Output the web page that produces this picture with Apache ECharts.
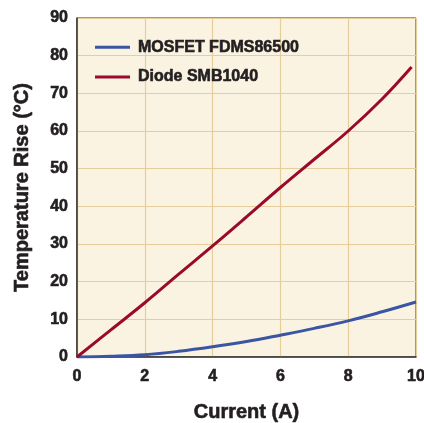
<!DOCTYPE html>
<html><head><meta charset="utf-8">
<script src="https://cdn.jsdelivr.net/npm/echarts@6/dist/echarts.min.js"></script>
<style>html,body{margin:0;padding:0;background:#fff;overflow:hidden}#c{width:424px;height:423px}</style>
</head><body><div id="c"></div>
<script>
const mosfetX = [0, 1, 2, 3, 4, 5, 6, 7, 8, 9, 10];
const mosfet = [0, 0.2, 0.6, 1.5, 2.7, 4.1, 5.8, 7.6, 9.6, 12.0, 14.6];
const diodeX = [0, 1, 2, 3, 4, 5, 6, 7, 8, 9, 9.87];
const diode = [0, 7.2, 14.4, 22.0, 29.5, 37.2, 45.0, 52.5, 60.0, 68.5, 77.0];
const seriesNames = ['MOSFET FDMS86500', 'Diode SMB1040'];
const xTitle = 'Current (A)';
const yTitle = 'Temperature Rise (°C)';
const FONT = '"Liberation Sans", Arial, sans-serif';
const INK = '#231F20';
const heavy = (size) => ({fontFamily: FONT, fontWeight: 'bold', fontSize: size, color: INK, textBorderColor: INK, textBorderWidth: 0.6});
const chart = echarts.init(document.getElementById('c'));
const toPairs = (xs, ys) => xs.map((x, i) => [x, ys[i]]);
chart.setOption({
  animation: false,
  grid: {left: 77, top: 18, width: 339, height: 339, outerBoundsMode: 'none', containLabel: false,
         show: true, backgroundColor: '#FBF3E2', borderColor: '#333', borderWidth: 1},
  legend: {
    left: 90, top: 34, orient: 'vertical', itemGap: 13, itemWidth: 35, itemHeight: 3,
    icon: 'rect',
    textStyle: Object.assign(heavy(16), {padding: [0, 0, 0, 3]}),
    data: seriesNames
  },
  xAxis: {
    type: 'value', min: 0, max: 10, interval: 2,
    name: xTitle, nameLocation: 'middle', nameGap: 45,
    nameTextStyle: heavy(20),
    axisLine: {show: true, lineStyle: {color: '#333', width: 1.5}},
    axisTick: {show: false},
    axisLabel: Object.assign(heavy(16), {margin: 12}),
    splitLine: {show: true, lineStyle: {color: '#E6CD9C', width: 1.2}}
  },
  yAxis: {
    type: 'value', min: 0, max: 90, interval: 10,
    name: yTitle, nameLocation: 'middle', nameGap: 45,
    nameTextStyle: heavy(20),
    axisLine: {show: true, lineStyle: {color: '#333', width: 1.5}},
    axisTick: {show: false},
    axisLabel: Object.assign(heavy(16), {margin: 9}),
    splitLine: {show: true, lineStyle: {color: '#E6CD9C', width: 1.2}}
  },
  series: [
    {name: seriesNames[0], type: 'line', data: toPairs(mosfetX, mosfet), smooth: 0.4, showSymbol: false,
     lineStyle: {color: '#3A55A4', width: 3}, itemStyle: {color: '#3A55A4'}},
    {name: seriesNames[1], type: 'line', data: toPairs(diodeX, diode), smooth: 0.4, showSymbol: false,
     lineStyle: {color: '#9A0A2C', width: 3}, itemStyle: {color: '#9A0A2C'}}
  ]
});
</script></body></html>
